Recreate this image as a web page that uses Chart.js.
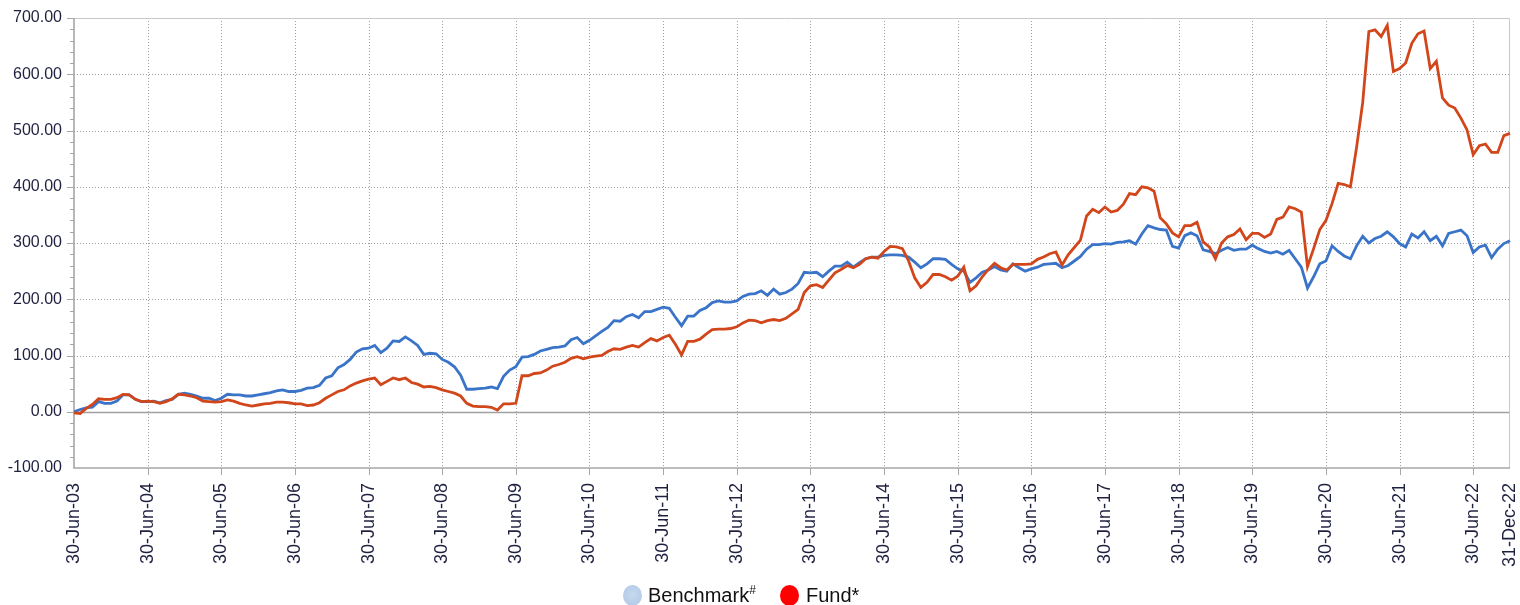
<!DOCTYPE html>
<html>
<head>
<meta charset="utf-8">
<script src="https://cdn.jsdelivr.net/npm/chart.js@4.4.0/dist/chart.umd.min.js"></script>
<style>
  html, body { margin: 0; padding: 0; background: #ffffff; }
  #wrap { position: relative; width: 1520px; height: 605px; overflow: hidden; }
  #c { position: absolute; left: 0; top: 0; }
  .lg { position: absolute; font-family: "Liberation Sans", Arial, sans-serif; font-size: 20px; line-height: 22px; color: #111; white-space: nowrap; }
  .mk { position: absolute; width: 19px; height: 21px; border-radius: 50%; }
  sup { font-size: 12px; vertical-align: 8px; line-height: 0; }
</style>
</head>
<body>
<div id="wrap">
  <canvas id="c" width="1520" height="605"></canvas>
  <div class="mk" style="left:623px; top:585px; background: radial-gradient(circle at 50% 45%, #c6d8ee 0%, #aec6e6 100%);"></div>
  <div class="lg" style="left:648px; top:584px;">Benchmark<sup>#</sup></div>
  <div class="mk" style="left:780px; top:585px; background:#ff0000;"></div>
  <div class="lg" style="left:806px; top:584px;">Fund*</div>
</div>
<script>
// ---- data (monthly, 30-Jun-03 .. 31-Dec-22) ----
const benchmarkValues = [
  0,4,7,8,18,15,15,19,30,30,22,18,
  18,19,16,20,22,31,33,31,28,24,24,20,
  24,31,30,30,28,28,30,32,34,37,39,36,
  36,38,42,43,47,60,64,78,84,93,106,112,
  113,118,105,113,126,125,133,126,118,102,104,103,
  93,88,80,65,40,40,41,42,44,41,63,74,
  80,97,98,102,108,111,114,115,117,128,132,121,
  127,135,143,150,162,161,169,173,167,178,178,182,
  186,184,168,153,170,170,180,185,194,197,195,195,
  197,205,209,210,215,207,218,209,212,218,228,248,
  247,248,240,250,259,259,266,257,265,272,275,275,
  278,279,279,278,275,266,256,263,272,272,271,262,
  254,250,230,238,248,252,258,252,250,263,256,250,
  254,257,262,263,264,256,260,268,276,289,297,297,
  299,298,301,302,304,298,316,331,327,324,323,294,
  291,313,318,313,288,285,281,287,292,287,289,289,
  296,290,285,282,285,280,287,272,257,220,240,263,
  268,295,285,277,272,295,312,300,308,312,320,311,
  299,293,316,309,320,304,312,295,317,320,323,313,
  283,293,296,274,289,299,304
];
const fundValues = [
  -2,-3,6,13,23,22,22,25,31,30,22,18,
  19,18,15,18,23,31,30,28,25,19,18,17,
  18,21,19,15,12,10,12,14,15,17,17,16,
  14,14,11,12,16,24,30,36,39,46,51,55,
  58,60,48,54,60,57,60,52,49,44,45,43,
  39,36,33,28,15,10,9,9,8,3,14,14,
  15,64,64,68,69,74,81,84,88,95,98,94,
  97,99,100,107,112,111,115,118,115,123,130,126,
  132,136,120,101,125,125,129,138,146,147,147,148,
  151,158,163,162,158,162,164,162,166,174,182,212,
  224,226,221,234,247,253,260,256,262,272,275,273,
  285,294,293,290,268,238,221,230,244,244,240,234,
  241,257,215,224,240,253,264,256,252,262,262,262,
  263,271,275,281,284,261,279,292,305,348,360,354,
  364,355,358,369,388,386,400,398,392,345,334,318,
  311,331,331,337,302,293,272,300,311,315,325,306,
  317,317,310,316,342,346,364,361,355,258,290,324,
  340,370,406,404,400,470,550,676,679,667,687,605,
  610,620,655,672,677,610,623,558,545,540,522,501,
  457,473,476,461,461,491,495
];
const xTickLabels = [
  "30-Jun-03","30-Jun-04","30-Jun-05","30-Jun-06","30-Jun-07","30-Jun-08","30-Jun-09",
  "30-Jun-10","30-Jun-11","30-Jun-12","30-Jun-13","30-Jun-14","30-Jun-15","30-Jun-16",
  "30-Jun-17","30-Jun-18","30-Jun-19","30-Jun-20","30-Jun-21","30-Jun-22","31-Dec-22"
];
const yMajorTicks = [-100, 0, 100, 200, 300, 400, 500, 600, 700];
const yMinorStep = 20;

// month-end category labels
const monthNames = ["Jan","Feb","Mar","Apr","May","Jun","Jul","Aug","Sep","Oct","Nov","Dec"];
const categories = [];
for (let y = 2003, m = 5; y < 2022 || (y === 2022 && m <= 11); ) {
  const d = new Date(y, m + 1, 0).getDate();
  categories.push(d + "-" + monthNames[m] + "-" + String(y % 100).padStart(2, "0"));
  m++; if (m > 11) { m = 0; y++; }
}
const tickSet = new Set(xTickLabels);

const GRID = "#9c9c9c";
const AXIS = "#a6a6a6";

const framePlugin = {
  id: "frame",
  beforeDatasetsDraw(chart) {
    const { ctx, chartArea: a, scales } = chart;
    const xs = scales.x, ys = scales.y;
    const last = categories.length - 1;
    ctx.save();
    ctx.lineWidth = 1;
    // horizontal grid
    yMajorTicks.forEach(v => {
      if (v === -100 || v === 700) return;
      const py = Math.round(ys.getPixelForValue(v)) + 0.5;
      ctx.beginPath();
      if (v === 0) { ctx.setLineDash([]); ctx.strokeStyle = "#a0a0a0"; ctx.lineWidth = 1.6; }
      else { ctx.setLineDash([1, 2]); ctx.strokeStyle = GRID; ctx.lineWidth = 1; }
      ctx.moveTo(a.left, py); ctx.lineTo(a.right, py); ctx.stroke();
    });
    // vertical grid
    ctx.setLineDash([1, 2]); ctx.strokeStyle = GRID; ctx.lineWidth = 1;
    categories.forEach((c, i) => {
      if (!tickSet.has(c) || i === 0 || i === last) return;
      const px = Math.round(xs.getPixelForValue(i)) + 0.5;
      ctx.beginPath(); ctx.moveTo(px, a.top); ctx.lineTo(px, a.bottom); ctx.stroke();
    });
    ctx.setLineDash([]);
    // frame
    ctx.strokeStyle = "#c8c8c8"; ctx.lineWidth = 1;
    ctx.beginPath();
    ctx.moveTo(a.left, a.top + 0.5); ctx.lineTo(a.right - 0.5, a.top + 0.5); ctx.lineTo(a.right - 0.5, a.bottom);
    ctx.stroke();
    ctx.strokeStyle = AXIS; ctx.lineWidth = 1.6;
    ctx.beginPath();
    ctx.moveTo(a.left, a.top); ctx.lineTo(a.left, a.bottom); ctx.lineTo(a.right, a.bottom);
    ctx.stroke();
    // y tick marks
    ctx.lineWidth = 1; ctx.strokeStyle = AXIS;
    for (let v = -100; v <= 700; v += yMinorStep) {
      if (v === -100) continue;
      const py = Math.round(ys.getPixelForValue(v)) + 0.5;
      const len = (v % 100 === 0) ? 7 : 4;
      ctx.beginPath(); ctx.moveTo(a.left - len, py); ctx.lineTo(a.left, py); ctx.stroke();
    }
    // x tick marks
    categories.forEach((c, i) => {
      if (!tickSet.has(c) || i === 0 || i === last) return;
      const px = Math.round(xs.getPixelForValue(i)) + 0.5;
      ctx.beginPath(); ctx.moveTo(px, a.bottom); ctx.lineTo(px, a.bottom + 7); ctx.stroke();
    });
    ctx.restore();
  }
};

new Chart(document.getElementById("c"), {
  type: "line",
  data: {
    labels: categories,
    datasets: [
      { label: "Fund*", data: fundValues, borderColor: "#d1461a", borderWidth: 2.8,
        pointRadius: 0, tension: 0, fill: false },
      { label: "Benchmark#", data: benchmarkValues, borderColor: "#3a74c8", borderWidth: 2.8,
        pointRadius: 0, tension: 0, fill: false }
    ]
  },
  options: {
    responsive: false,
    animation: false,
    events: [],
    layout: { padding: { top: 18, right: 10, left: 0, bottom: 0 } },
    plugins: { legend: { display: false }, tooltip: { enabled: false } },
    scales: {
      x: {
        type: "category",
        offset: false,
        grid: { display: false, drawTicks: false },
        border: { display: false },
        afterFit(s) { s.height = 137; s.paddingLeft = 0; s.paddingRight = 0; },
        ticks: {
          autoSkip: false, maxRotation: 90, minRotation: 90, padding: 15,
          color: "#1e2040",
          font: { family: "'Liberation Sans', Arial, sans-serif", size: 18 },
          callback(v, i) { const l = categories[i]; return tickSet.has(l) ? l : null; }
        }
      },
      y: {
        min: -100, max: 700,
        grid: { display: false, drawTicks: false },
        border: { display: false },
        afterFit(s) { s.width = 74; s.paddingTop = 0; s.paddingBottom = 0; },
        afterBuildTicks(s) { s.ticks = yMajorTicks.map(v => ({ value: v })); },
        ticks: {
          padding: 12,
          color: "#1e2040",
          font: { family: "'Liberation Sans', Arial, sans-serif", size: 16 },
          callback(v) { return Number(v).toFixed(2); }
        }
      }
    }
  },
  plugins: [framePlugin]
});
</script>
</body>
</html>
